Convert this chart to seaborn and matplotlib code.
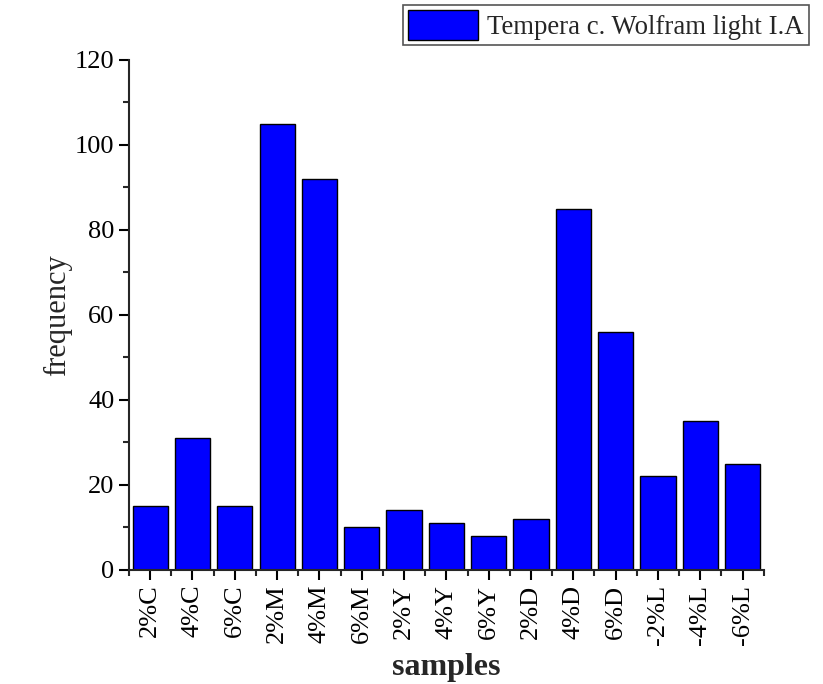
import pandas as pd
import seaborn as sns
import matplotlib.pyplot as plt
from matplotlib.ticker import MultipleLocator, FixedLocator

samples = ['2%C', '4%C', '6%C', '2%M', '4%M', '6%M', '2%Y', '4%Y', '6%Y',
           '2%D', '4%D', '6%D', '-2%L', '-4%L', '-6%L']
frequency = [15, 31, 15, 105, 92, 10, 14, 11, 8, 12, 85, 56, 22, 35, 25]
series_name = 'Tempera c. Wolfram light I.A'

df = pd.DataFrame({'samples': samples, 'frequency': frequency})

sns.set_style('ticks')
plt.rcParams['font.family'] = ['Liberation Serif', 'DejaVu Serif']
plt.rcParams['font.size'] = 19

fig = plt.figure(figsize=(8.23, 6.84), dpi=100)
ax = fig.add_axes([0.1567, 0.1667, 0.928 - 0.1567, 0.9123 - 0.1667])

sns.barplot(data=df, x='samples', y='frequency', color='#0000FF',
            saturation=1, width=0.83, edgecolor='black', linewidth=1,
            label=series_name, ax=ax)

ax.set_xlim(-0.5, len(samples) - 0.5)
ax.set_ylim(0, 120)
ax.yaxis.set_major_locator(MultipleLocator(20))
ax.yaxis.set_minor_locator(MultipleLocator(10))
ax.xaxis.set_minor_locator(FixedLocator([i + 0.5 for i in range(-1, len(samples))]))
ax.tick_params(axis='both', which='major', direction='out', length=7, width=1.5,
               labelsize=19, colors='black')
ax.tick_params(axis='both', which='minor', direction='out', length=4, width=1.5)
ax.tick_params(axis='x', labelrotation=90)
for s in ['top', 'right']:
    ax.spines[s].set_visible(False)
for s in ['left', 'bottom']:
    ax.spines[s].set_linewidth(1.5)

ax.set_xlabel('samples', fontsize=23, fontweight='bold', labelpad=6)
ax.set_ylabel('frequency', fontsize=22, labelpad=2)

leg = ax.legend(loc='upper right', bbox_to_anchor=(809 / 823, 1 - 5 / 684),
                bbox_transform=fig.transFigure, fancybox=False, frameon=True,
                edgecolor='#555555', framealpha=1, fontsize=19.3,
                handlelength=2.6, handleheight=1.3, borderaxespad=0,
                borderpad=0.2, handletextpad=0.35)
leg.get_frame().set_linewidth(1.2)

fig.savefig('out.png', dpi=100)
